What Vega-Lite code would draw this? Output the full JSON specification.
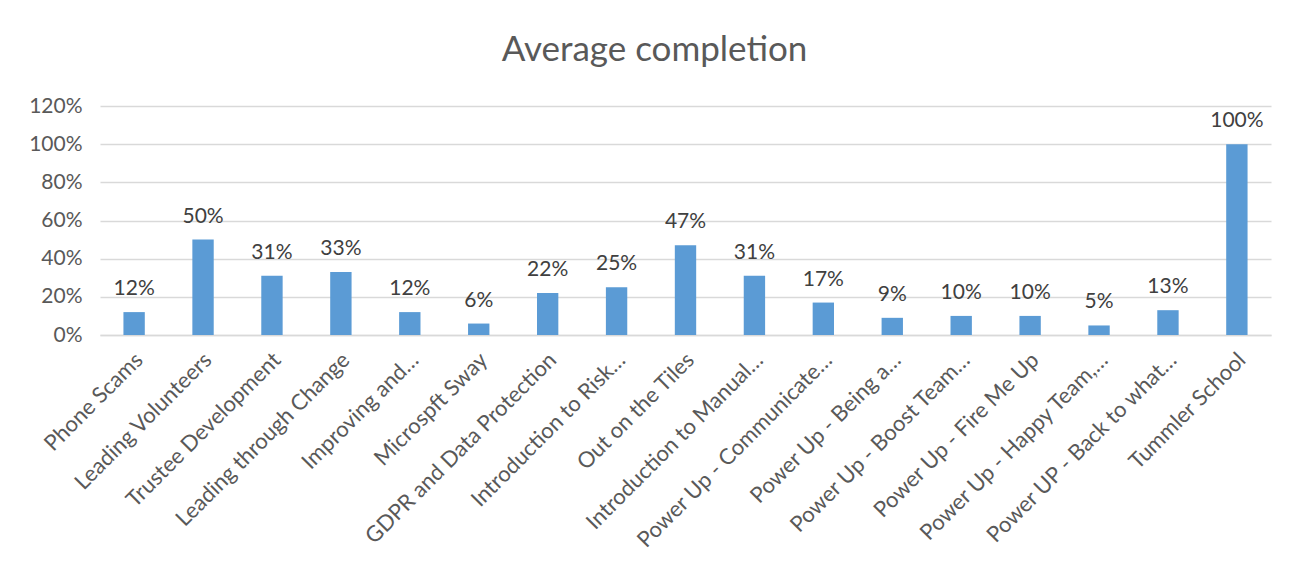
{
  "$schema": "https://vega.github.io/schema/vega-lite/v6.json",
  "autosize": "none",
  "width": 1171,
  "height": 229,
  "padding": {"left": 100, "top": 106, "right": 35, "bottom": 227},
  "background": "white",
  "title": {
    "text": "Average completion",
    "font": "Lato",
    "fontSize": 35,
    "fontWeight": "normal",
    "color": "#595959",
    "anchor": "middle",
    "offset": 27,
    "dx": -31
  },
  "data": {
    "values": [
      {"course": "Phone Scams", "value": 0.12},
      {"course": "Leading Volunteers", "value": 0.50},
      {"course": "Trustee Development", "value": 0.31},
      {"course": "Leading through Change", "value": 0.33},
      {"course": "Improving and…", "value": 0.12},
      {"course": "Microspft Sway", "value": 0.06},
      {"course": "GDPR and Data Protection", "value": 0.22},
      {"course": "Introduction to Risk…", "value": 0.25},
      {"course": "Out on the Tiles", "value": 0.47},
      {"course": "Introduction to Manual…", "value": 0.31},
      {"course": "Power Up - Communicate…", "value": 0.17},
      {"course": "Power Up - Being a…", "value": 0.09},
      {"course": "Power Up - Boost Team…", "value": 0.10},
      {"course": "Power Up - Fire Me Up", "value": 0.10},
      {"course": "Power Up - Happy Team,…", "value": 0.05},
      {"course": "Power UP - Back to what…", "value": 0.13},
      {"course": "Tummler School", "value": 1.00}
    ]
  },
  "encoding": {
    "x": {
      "field": "course",
      "type": "nominal",
      "sort": null,
      "scale": {"paddingInner": 0.69, "paddingOuter": 0.34},
      "axis": {
        "title": null,
        "labelAngle": -45,
        "labelAlign": "right",
        "labelBaseline": "top",
        "labelFont": "Lato",
        "labelFontSize": 22,
        "labelColor": "#595959",
        "labelPadding": 14,
        "labelLimit": 400,
        "labelOffset": -2,
        "ticks": false,
        "domainColor": "#D9D9D9",
        "domainWidth": 1.5
      }
    },
    "y": {
      "field": "value",
      "type": "quantitative",
      "scale": {"domain": [0, 1.2]},
      "axis": {
        "title": null,
        "format": ".0%",
        "values": [0, 0.2, 0.4, 0.6, 0.8, 1.0, 1.2],
        "labelFont": "Lato",
        "labelFontSize": 21,
        "labelColor": "#595959",
        "labelPadding": 18,
        "ticks": false,
        "domain": false,
        "gridColor": "#D9D9D9",
        "gridWidth": 1.5
      }
    }
  },
  "layer": [
    {"mark": {"type": "bar", "color": "#5B9BD5"}},
    {
      "mark": {"type": "text", "baseline": "bottom", "dy": -13, "font": "Lato", "fontSize": 21, "color": "#404040"},
      "encoding": {"text": {"field": "value", "type": "quantitative", "format": ".0%"}}
    }
  ],
  "config": {"view": {"stroke": null}}
}
